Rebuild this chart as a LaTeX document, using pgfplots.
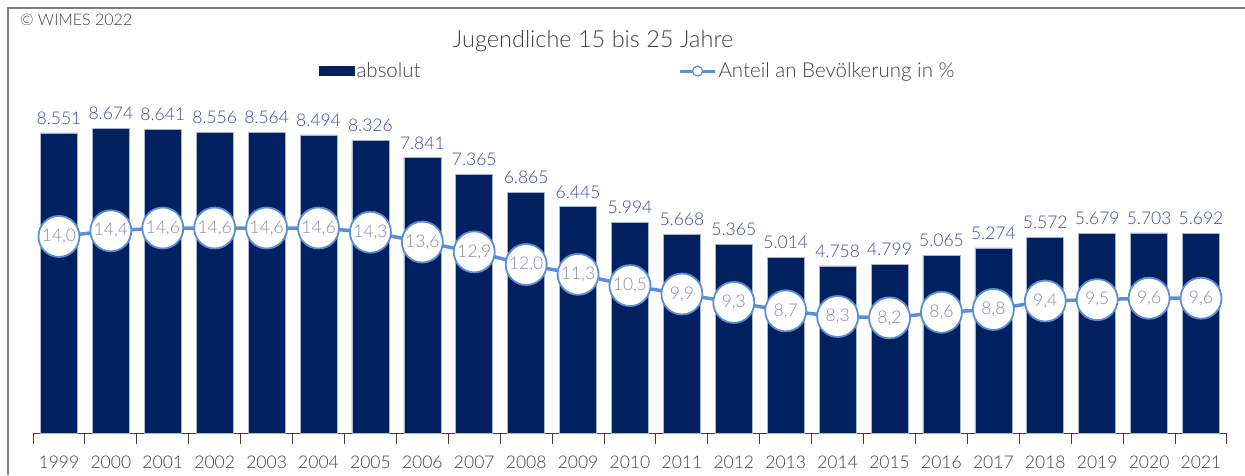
\documentclass[border=0pt]{standalone}
\usepackage{pgfplots}
\pgfplotsset{compat=1.18}
\usepackage{fontspec}
\setmainfont{Lato Light}
\definecolor{navy}{HTML}{002060}
\definecolor{baredge}{HTML}{A8B4CC}
\definecolor{barlab}{HTML}{4444A4}
\definecolor{linecol}{HTML}{5A8FD8}
\definecolor{circlab}{HTML}{8C88AA}
\definecolor{axisgray}{HTML}{404040}
\definecolor{framegray}{HTML}{7F7F7F}
\newcommand{\fs}[1]{\fontsize{#1}{#1}\selectfont}
\begin{document}
\begin{tikzpicture}[x=1pt,y=1pt]
\useasboundingbox (0,0) rectangle (1245,475);
\begin{axis}[at={(33pt,42pt)}, anchor=south west, scale only axis,
  width=1194pt, height=351pt,
  xmin=-0.5, xmax=22.5, ymin=0, ymax=10000,
  axis x line=bottom, axis y line=none,
  axis line style={-, draw=axisgray, line width=1pt},
  xtick={0,...,22},
  xticklabels={1999,2000,2001,2002,2003,2004,2005,2006,2007,2008,2009,2010,2011,2012,2013,2014,2015,2016,2017,2018,2019,2020,2021},
  minor xtick={-0.5,0.5,...,22.5},
  major tick length=0pt, minor tick length=11pt, tick align=center,
  minor tick style={draw=axisgray, line width=1pt},
  xticklabel style={font=\fs{17.5}, text=axisgray, yshift=-19pt},
  ytick=\empty,
  ybar, bar width=37pt, clip=false,
  nodes near coords={\pgfmathprintnumber[fixed,precision=0,1000 sep={.},assume math mode=true]{\pgfplotspointmeta}},
  nodes near coords style={font=\fs{17.5}, text=barlab, anchor=south, yshift=5pt},
  title={Jugendliche 15 bis 25 Jahre},
  title style={at={(0.469,1.0997)}, anchor=center, font=\fs{23.5}, text=axisgray},
]
\addplot[fill=navy, draw=baredge, line width=0.6pt] coordinates {
(0,8551) (1,8674) (2,8641) (3,8556) (4,8564) (5,8494) (6,8326) (7,7841)
(8,7365) (9,6865) (10,6445) (11,5994) (12,5668) (13,5365) (14,5014)
(15,4758) (16,4799) (17,5065) (18,5274) (19,5572) (20,5679) (21,5703) (22,5692)};
\end{axis}
\begin{axis}[at={(33pt,42pt)}, anchor=south west, scale only axis,
  width=1194pt, height=351pt,
  xmin=-0.5, xmax=22.5, ymin=0, ymax=25, hide axis, clip=false,
  legend style={at={(0.2395,1.031)}, anchor=west, draw=none, fill=none,
    inner sep=0pt, font=\fs{20.5}, text=axisgray},
  legend columns=2, legend cell align=left,
]
\addlegendimage{legend image code/.code={\fill[navy] (0pt,-4.5pt) rectangle (35pt,4.5pt);}}
\addlegendentry{\makebox[320pt][l]{absolut}}
\addplot[color=linecol, line width=3.5pt, mark=*, mark size=20.5pt,
  mark options={fill=white, draw=linecol, line width=1.8pt},
  nodes near coords={\pgfmathprintnumber[fixed,fixed zerofill,precision=1,use comma,assume math mode=true]{\pgfplotspointmeta}},
  nodes near coords style={anchor=center, font=\fs{17.5}, text=circlab},
  legend image code/.code={\draw[linecol, line width=3pt] (0pt,0pt)--(35pt,0pt);
    \draw[linecol, fill=white, line width=1.2pt] (17.5pt,0pt) circle (5pt);}]
coordinates {
(0,14.0) (1,14.4) (2,14.6) (3,14.6) (4,14.6) (5,14.6) (6,14.3) (7,13.6)
(8,12.9) (9,12.0) (10,11.3) (11,10.5) (12,9.9) (13,9.3) (14,8.7)
(15,8.3) (16,8.2) (17,8.6) (18,8.8) (19,9.4) (20,9.5) (21,9.6) (22,9.6)};
\addlegendentry{Anteil an Bevölkerung in \%}
\end{axis}
\node[anchor=west, font=\fs{16}, text=axisgray, inner sep=0pt] at (20,455) {© WIMES 2022};
\draw[framegray, line width=1.2pt] (8,0) -- (8,467) -- (1245,467);
\end{tikzpicture}
\end{document}
